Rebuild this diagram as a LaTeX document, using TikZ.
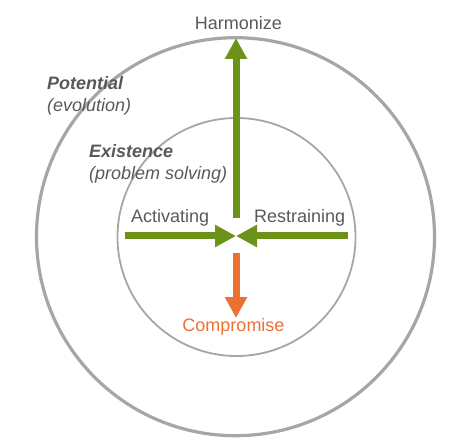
\documentclass[tikz,border=0pt]{standalone}
\usepackage{fontspec}
\setmainfont{Liberation Sans}
\usetikzlibrary{arrows.meta}
\definecolor{ringgray}{HTML}{A6A6A6}
\definecolor{textgray}{HTML}{595959}
\definecolor{forcegreen}{HTML}{6C9219}
\definecolor{pullorange}{HTML}{ED7033}

\begin{document}
\begin{tikzpicture}[x=1pt,y=-1pt,font=\fontsize{18}{20}\selectfont,
  force/.style={line width=7pt,-{Triangle[width=21pt,length=21pt]}},
  lbl/.style={text=textgray,inner sep=0pt}]
\useasboundingbox (0,0) rectangle (457,443);

\draw[ringgray,line width=3.2pt] (235.5,236.7) circle (199);
\draw[ringgray,line width=1.8pt] (236.5,237) circle (119);

\coordinate (mid) at (236,236);
\coordinate (up-start) at (236,218);
\coordinate (left-start) at (125,236);
\coordinate (right-start) at (348,236);
\coordinate (down-start) at (236,253);
\coordinate (up-end) at (236,38);
\coordinate (down-end) at (236,318);

\node[lbl,anchor=base] (harm) at (238.5,29.5) {Harmonize};
\node[lbl,anchor=base west] (pot) at (47,90) {\bfseries\itshape Potential};
\node[lbl,anchor=base west] (evo) at (47,111.5) {\itshape (evolution)};
\node[lbl,anchor=base west] (exi) at (89,158) {\bfseries\itshape Existence};
\node[lbl,anchor=base west] (prob) at (89,180) {\itshape (problem solving)};
\node[lbl,anchor=base west] (act) at (131,223) {Activating};
\node[lbl,anchor=base west] (res) at (254,223) {Restraining};
\node[text=pullorange,inner sep=0pt,anchor=base] (comp) at (233.5,331.5) {Compromise};

\draw[force,forcegreen] (up-start) -- (up-end);
\draw[force,forcegreen] (left-start) -- (mid);
\draw[force,forcegreen] (right-start) -- (mid);
\draw[force,pullorange] (down-start) -- (down-end);
\end{tikzpicture}
\end{document}
